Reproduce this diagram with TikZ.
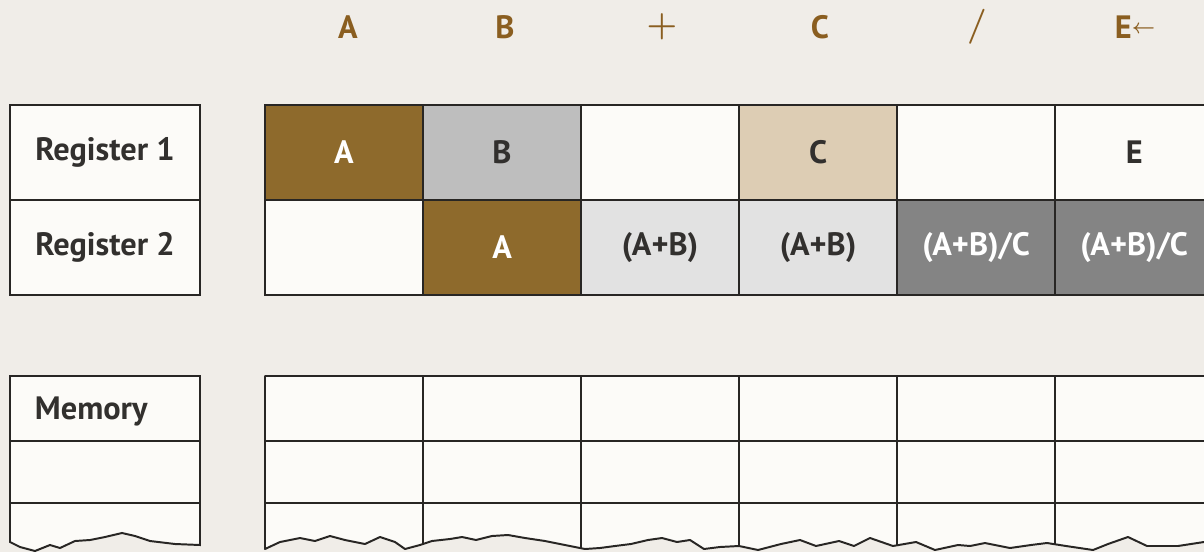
\documentclass[tikz,border=0pt]{standalone}
\usepackage{fontspec}
\setmainfont{PT Sans}
\usetikzlibrary{positioning}
\definecolor{paperbg}{RGB}{240,237,232}
\definecolor{paperwhite}{RGB}{252,251,248}
\definecolor{gridline}{RGB}{40,38,36}
\definecolor{opbrown}{RGB}{138,94,32}
\definecolor{regbrown}{RGB}{142,106,44}
\definecolor{reggray}{RGB}{190,190,190}
\definecolor{regtan}{RGB}{221,205,180}
\definecolor{reglight}{RGB}{226,226,226}
\definecolor{regdark}{RGB}{132,132,132}
\definecolor{textdark}{RGB}{50,48,46}

\newcommand\cellfont{\fontsize{23}{26}\selectfont\bfseries}
\newcommand\opfont{\normalfont\boldmath\fontsize{34}{34}\selectfont}
\newcommand\gridedge{(265,376) -- (265,549) -- (280,542) -- (300,538) -- (315,541) -- (330,536)
  -- (345,540) -- (365,544) -- (380,537) -- (395,542) -- (405,549) -- (420,545) -- (432,541)
  -- (450,539) -- (462,537) -- (476,540) -- (492,536) -- (508,535) -- (525,538) -- (545,541)
  -- (565,545) -- (585,549) -- (600,548) -- (615,546) -- (631,544) -- (648,540) -- (662,538)
  -- (677,542) -- (690,540) -- (704,549) -- (720,547) -- (739,546) -- (758,550) -- (781,544)
  -- (800,540) -- (816,546) -- (839,541) -- (854,546) -- (870,538) -- (893,546) -- (916,542)
  -- (935,550) -- (958,545) -- (970,546) -- (985,543) -- (1010,548) -- (1031,545) -- (1047,543)
  -- (1066,546) -- (1093,550) -- (1108,544) -- (1128,537) -- (1147,546) -- (1178,546)
  -- (1204,542) -- (1215,542) -- (1215,376) -- cycle}

\tikzset{
  cell/.style={draw=gridline, line width=1.4pt, fill=paperwhite, outer sep=0pt, inner sep=0pt,
    minimum width=3.95cm, minimum height=2.375cm, font=\cellfont, text=textdark},
  namebox/.style={cell, minimum width=4.75cm},
  oplabel/.style={font=\cellfont, text=opbrown},
  gridrule/.style={draw=gridline, line width=1.4pt},
}

\begin{document}
\begin{tikzpicture}[x=0.025cm, y=-0.025cm]
  \clip (0,0) rectangle (1204,552);
  \fill[paperbg] (0,0) rectangle (1204,552);

  % operation sequence
  \node[oplabel] (hA) at (348,27) {A};
  \node[oplabel] (hB) at (505,27) {B};
  \node[oplabel, font=\opfont] (hPlus) at (662,27) {$+$};
  \node[oplabel] (hC) at (820,27) {C};
  \node[oplabel, font=\opfont] (hDiv) at (977,27) {$/$};
  \node[oplabel] (hE) at (1135,27) {E\raisebox{0.15em}{\boldmath\fontsize{14}{14}\selectfont$\leftarrow$}};

  % register names
  \node[namebox] (nameR1) at (105,152.5) {Register 1};
  \node[namebox, below=0pt of nameR1] (nameR2) {Register 2};

  % register 1
  \node[cell, fill=regbrown, text=white] (r1a) at (344,152.5) {A};
  \node[cell, fill=reggray, right=0pt of r1a] (r1b) {B};
  \node[cell, right=0pt of r1b] (r1c) {};
  \node[cell, fill=regtan, right=0pt of r1c] (r1d) {C};
  \node[cell, right=0pt of r1d] (r1e) {};
  \node[cell, right=0pt of r1e] (r1f) {E};

  % register 2
  \node[cell, below=0pt of r1a] (r2a) {};
  \node[cell, fill=regbrown, text=white, right=0pt of r2a] (r2b) {A};
  \node[cell, fill=reglight, right=0pt of r2b] (r2c) {(A+B)};
  \node[cell, fill=reglight, right=0pt of r2c] (r2d) {(A+B)};
  \node[cell, fill=regdark, text=white, right=0pt of r2d] (r2e) {(A+B)/C};
  \node[cell, fill=regdark, text=white, right=0pt of r2e] (r2f) {(A+B)/C};

  % memory name box
  \filldraw[gridrule, fill=paperwhite] (10,542) -- (10,376) -- (200,376) -- (200,545)
    -- (175,544) -- (150,541) -- (135,536) -- (122,533) -- (105,537) -- (90,540)
    -- (75,541) -- (60,548) -- (50,545) -- (35,551) -- (20,547) -- cycle;
  \draw[gridrule] (10,441) -- (200,441) (10,503) -- (200,503);
  \node[font=\cellfont, text=textdark, anchor=west] (mem) at (30,411) {Memory};

  % memory cells
  \fill[paperwhite] \gridedge;
  \begin{scope}
    \clip \gridedge;
    \foreach \x in {423,581,739,897,1055}
      \draw[gridrule] (\x,376) -- (\x,552);
    \foreach \y in {441,503}
      \draw[gridrule] (265,\y) -- (1215,\y);
  \end{scope}
  \draw[gridrule, line join=round] \gridedge;
\end{tikzpicture}
\end{document}
